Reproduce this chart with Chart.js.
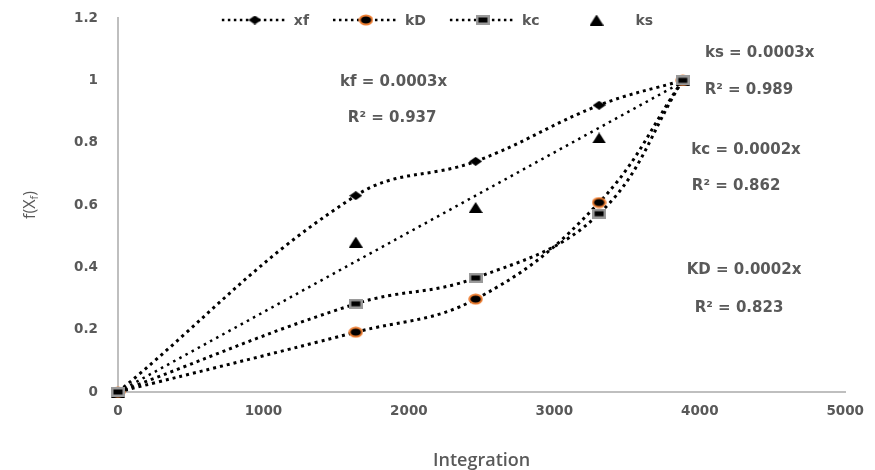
<!DOCTYPE html>
<html><head><meta charset="utf-8">
<script src="https://cdn.jsdelivr.net/npm/chart.js@4.4.0/dist/chart.umd.min.js"></script>
<style>html,body{margin:0;padding:0;background:#fff}#wrap{width:875px;height:470px;position:relative}</style>
</head><body><div id="wrap"><canvas id="c"></canvas></div>
<script>
// ---- data ----
const integration = [0, 1635, 2459, 3308, 3883];
const xf = [0, 0.63, 0.74, 0.92, 1.0];
const kD = [0, 0.192, 0.298, 0.608, 1.0];
const kc = [0, 0.283, 0.366, 0.572, 1.0];
const ks = [0, 0.481, 0.592, 0.815, 1.0];
const ksTrendX = [0, 3883];
const ksTrendY = [0, 0.995];
const seriesNames = ['xf', 'kD', 'kc', 'ks'];
const equationTexts = ['kf = 0.0003x', 'R² = 0.937', 'ks = 0.0003x', 'R² = 0.989', 'kc = 0.0002x', 'R² = 0.862', 'KD = 0.0002x', 'R² = 0.823'];
const xTitle = 'Integration';
const yTitleMain = 'f(X';
const yTitleSub = 'f';

// ---- label anchors (data coordinates) ----
const eqAnchorX = [1895, 1885, 4412, 4338, 4318, 4250, 4304, 4270];
const eqAnchorY = [0.995, 0.879, 1.088, 0.969, 0.776, 0.661, 0.391, 0.270];

const TEXT = '#595959';

function mk(w, h, draw) { const c = document.createElement('canvas'); c.width = w; c.height = h; draw(c.getContext('2d'), w, h); return c; }
const diamondImg = mk(13, 9, g => { g.fillStyle = '#000'; g.beginPath(); g.moveTo(6.5, 0); g.lineTo(13, 4.5); g.lineTo(6.5, 9); g.lineTo(0, 4.5); g.closePath(); g.fill(); });
const circleImg = mk(15, 12, g => { g.beginPath(); g.ellipse(7.5, 6, 6.2, 4.6, 0, 0, Math.PI * 2); g.fillStyle = '#000'; g.fill(); g.lineWidth = 2; g.strokeStyle = '#ED7D31'; g.stroke(); });
const squareImg = mk(14, 10, g => { g.fillStyle = '#9a9a9a'; g.fillRect(0, 0, 14, 10); g.fillStyle = '#000'; g.fillRect(2.5, 2.5, 9, 5); });
const triImg = mk(14, 11, g => { g.fillStyle = '#000'; g.beginPath(); g.moveTo(7, 0); g.lineTo(14, 11); g.lineTo(0, 11); g.closePath(); g.fill(); });

const pts = ys => integration.map((x, i) => ({ x, y: ys[i] }));
const lineStyle = { showLine: true, clip: false, borderColor: '#000', borderWidth: 3, borderDash: [3, 4], tension: 0.4, pointRadius: 6, pointHoverRadius: 6 };

const legendPlugin = {
  id: 'customDecor',
  afterDraw(chart) {
    const ctx = chart.ctx;
    const xs = chart.scales.x, ys = chart.scales.y;
    ctx.save();
    // equations
    ctx.font = 'bold 15px "DejaVu Sans"';
    ctx.fillStyle = TEXT; ctx.textAlign = 'center'; ctx.textBaseline = 'middle';
    equationTexts.forEach((t, i) => ctx.fillText(t, xs.getPixelForValue(eqAnchorX[i]), ys.getPixelForValue(eqAnchorY[i])));
    // legend
    const imgs = [diamondImg, circleImg, squareImg, triImg];
    const hasLine = [true, true, true, false];
    ctx.font = 'bold 14px "DejaVu Sans"';
    const lineW = 66, gapText = 6, gapItem = 24;
    const widths = seriesNames.map(n => lineW + gapText + ctx.measureText(n).width);
    const total = widths.reduce((a, b) => a + b, 0) + gapItem * (widths.length - 1);
    let x0 = chart.width / 2 - total / 2;
    const ly = 20;
    seriesNames.forEach((n, i) => {
      if (hasLine[i]) {
        ctx.save(); ctx.strokeStyle = '#000'; ctx.lineWidth = 2.5; ctx.setLineDash([2.5, 3.5]);
        ctx.beginPath(); ctx.moveTo(x0, ly); ctx.lineTo(x0 + lineW, ly); ctx.stroke(); ctx.restore();
      }
      const im = imgs[i];
      ctx.drawImage(im, x0 + lineW / 2 - im.width / 2, ly - im.height / 2);
      ctx.fillStyle = TEXT; ctx.textAlign = 'left'; ctx.textBaseline = 'middle';
      ctx.fillText(n, x0 + lineW + gapText, ly + 1);
      x0 += widths[i] + gapItem;
    });
    // y title with subscript
    ctx.translate(30, 205); ctx.rotate(-Math.PI / 2);
    ctx.font = '16px "Open Sans"';
    const w1 = ctx.measureText(yTitleMain).width;
    ctx.font = '11px "Open Sans"';
    const w2 = ctx.measureText(yTitleSub).width;
    ctx.font = '16px "Open Sans"';
    const w3 = ctx.measureText(')').width;
    let sx = -(w1 + w2 + w3) / 2;
    ctx.fillStyle = TEXT; ctx.textAlign = 'left'; ctx.textBaseline = 'middle';
    ctx.fillText(yTitleMain, sx, 0); sx += w1;
    ctx.font = '11px "Open Sans"'; ctx.fillText(yTitleSub, sx, 5); sx += w2;
    ctx.font = '16px "Open Sans"'; ctx.fillText(')', sx, 0);
    ctx.restore();
  }
};

new Chart(document.getElementById('c'), {
  type: 'scatter',
  data: {
    datasets: [
      Object.assign({ label: 'xf', data: pts(xf), pointStyle: diamondImg, order: 2 }, lineStyle),
      Object.assign({ label: 'kD', data: pts(kD), pointStyle: circleImg, order: 1 }, lineStyle),
      Object.assign({ label: 'kc', data: pts(kc), pointStyle: squareImg, order: 0 }, lineStyle),
      { label: 'ks', data: pts(ks), clip: false, pointStyle: triImg, pointRadius: 6, showLine: false, order: 3 },
      { label: 'ks trend', data: ksTrendX.map((x, i) => ({ x, y: ksTrendY[i] })), clip: false, showLine: true, pointRadius: 0, borderColor: '#000', borderWidth: 2.5, borderDash: [2.5, 4.5], tension: 0, order: 4 }
    ]
  },
  options: {
    responsive: true, maintainAspectRatio: false, animation: false,
    layout: { padding: { left: 0, top: 18, right: 17, bottom: 0 } },
    plugins: { legend: { display: false }, tooltip: { enabled: false } },
    scales: {
      x: {
        type: 'linear', min: 0, max: 5000,
        afterFit: s => { s.height = 78; },
        grid: { display: false, drawTicks: false },
        border: { display: true, color: '#bfbfbf', width: 2 },
        ticks: { stepSize: 1000, padding: 11, color: TEXT, font: { family: 'DejaVu Sans', weight: 'bold', size: 13.5 }, callback: v => String(v) },
        title: { display: true, text: xTitle, color: TEXT, font: { family: 'Open Sans', weight: '600', size: 18, lineHeight: 1.0 }, padding: { top: 0, bottom: 0 } }
      },
      y: {
        type: 'linear', min: 0, max: 1.2,
        afterFit: s => { s.width = 118; s.paddingTop = 0; s.paddingBottom = 0; },
        grid: { display: false, drawTicks: false },
        border: { display: true, color: '#bfbfbf', width: 2 },
        ticks: { stepSize: 0.2, padding: 20, color: TEXT, font: { family: 'DejaVu Sans', weight: 'bold', size: 13.5 }, callback: v => String(Math.round(v * 10) / 10) }
      }
    }
  },
  plugins: [legendPlugin]
});
</script></body></html>
